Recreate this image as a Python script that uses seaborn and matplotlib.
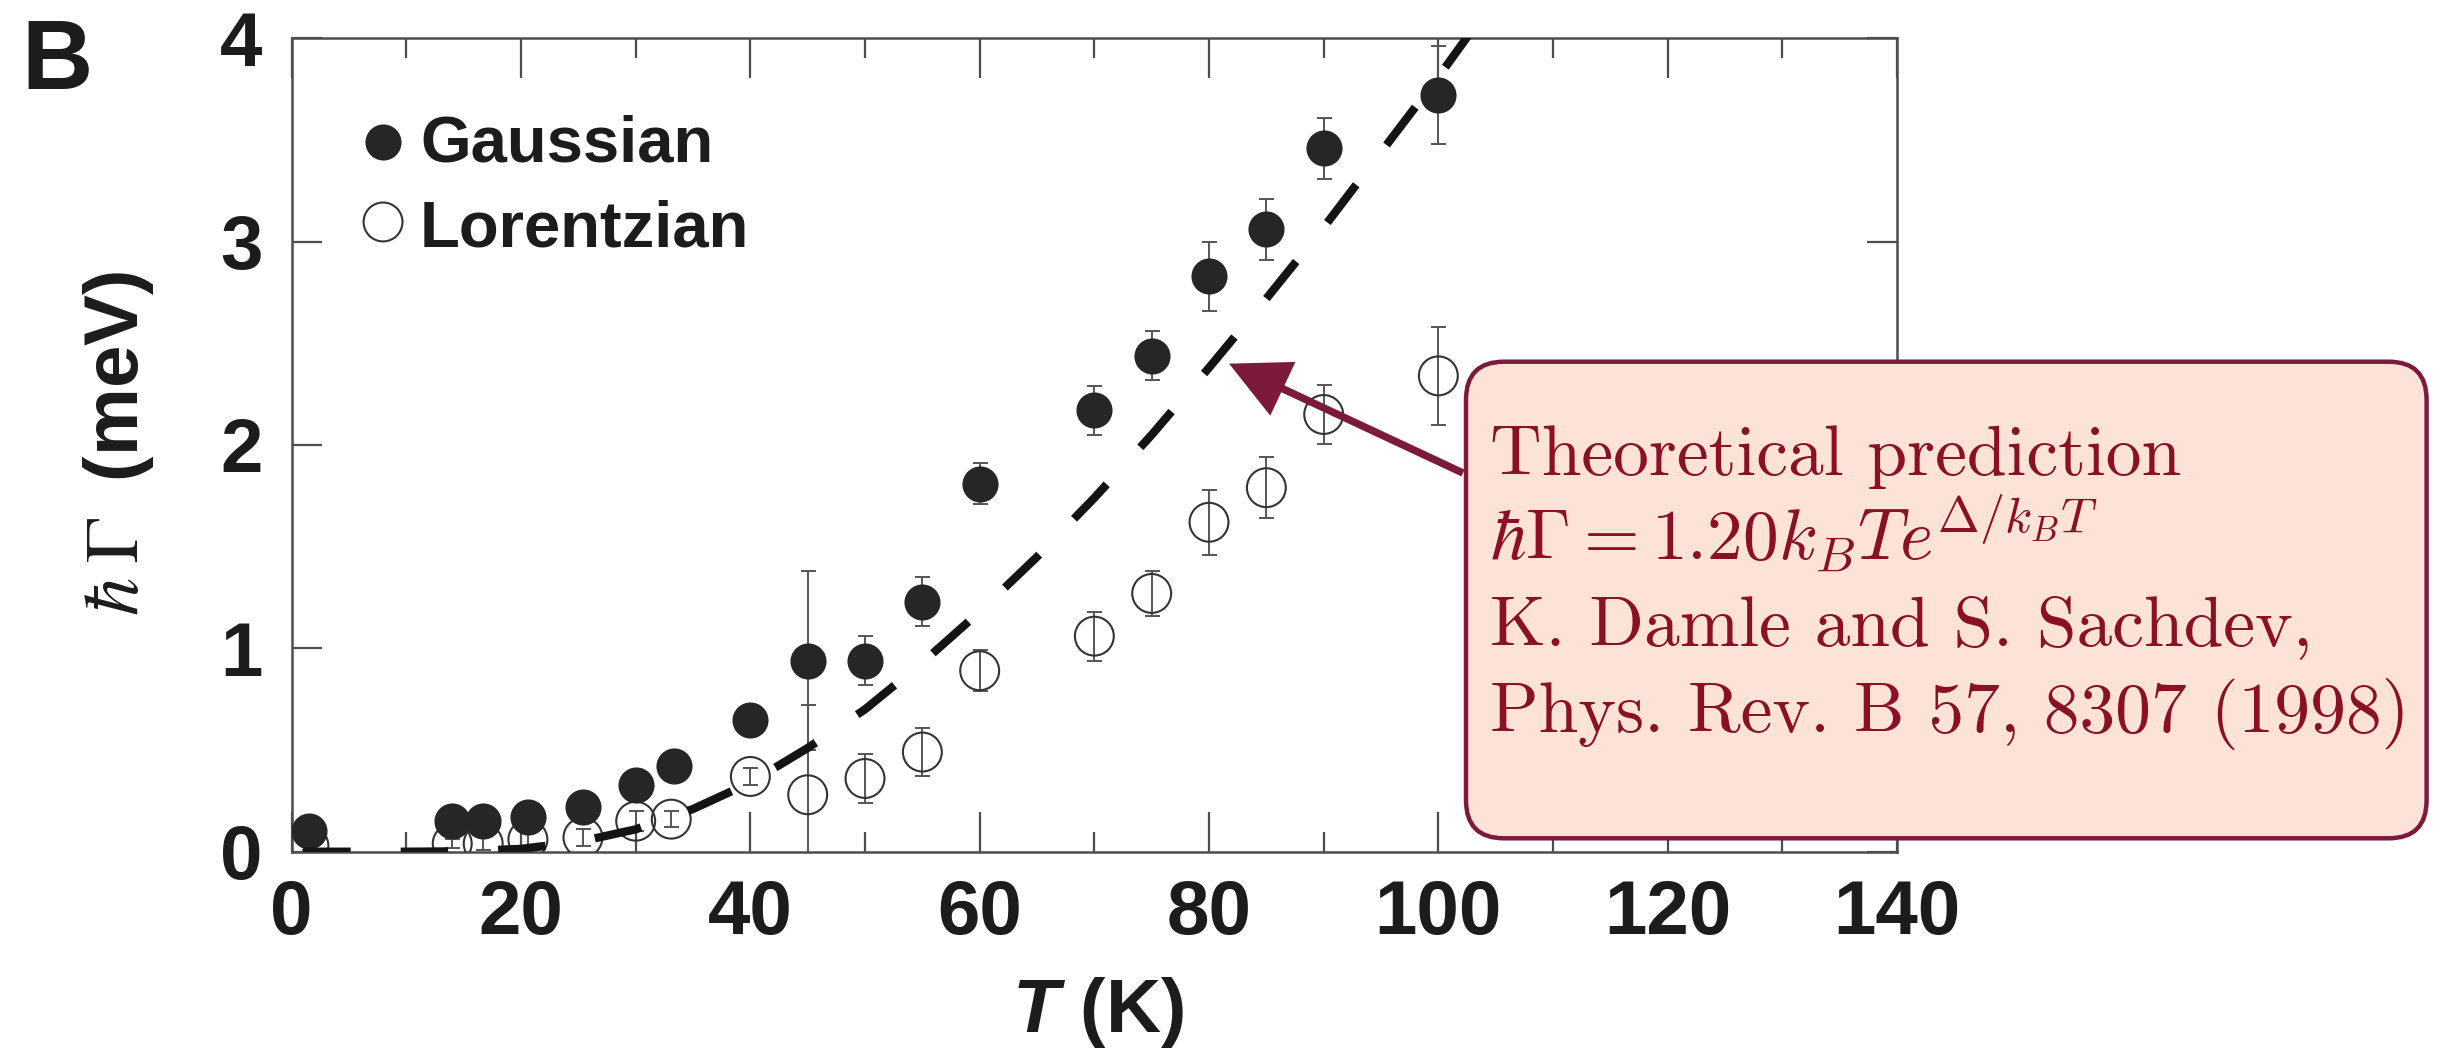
import matplotlib
matplotlib.use("Agg")
import matplotlib.pyplot as plt
import seaborn as sns
import pandas as pd
from matplotlib.patches import FancyBboxPatch
from matplotlib.transforms import IdentityTransform
from matplotlib.ticker import MultipleLocator

# Damping rate from Gaussian line-shape fits (filled symbols)
t_gauss = [1.5, 14.0, 16.7, 20.6, 25.4, 30.0, 33.3, 40.0, 45.0, 50.0, 55.0, 60.0,
           70.0, 75.0, 80.0, 85.0, 90.0, 100.0]
gamma_gauss = [0.10, 0.15, 0.15, 0.17, 0.22, 0.33, 0.42, 0.65, 0.94, 0.94, 1.23, 1.81,
               2.17, 2.44, 2.83, 3.06, 3.46, 3.72]
err_gauss = [0.03, 0.03, 0.03, 0.03, 0.03, 0.04, 0.04, 0.05, 0.44, 0.12, 0.12, 0.10,
             0.12, 0.12, 0.17, 0.15, 0.15, 0.24]

# Damping rate from Lorentzian line-shape fits (open symbols)
t_lor = [1.5, 14.0, 16.7, 20.6, 25.4, 30.0, 33.1, 40.0, 45.0, 50.0, 55.0, 60.0,
         70.0, 75.0, 80.0, 85.0, 90.0, 100.0]
gamma_lor = [0.03, 0.04, 0.04, 0.06, 0.07, 0.15, 0.16, 0.37, 0.28, 0.36, 0.49, 0.89,
             1.06, 1.27, 1.62, 1.79, 2.15, 2.34]
err_lor = [0.02, 0.02, 0.03, 0.03, 0.04, 0.05, 0.04, 0.04, 0.44, 0.12, 0.12, 0.10,
           0.12, 0.11, 0.16, 0.15, 0.145, 0.24]

# Theoretical prediction (dashed curve)
t_theory = [1, 5, 10, 15, 20, 25, 30, 35, 40, 45, 50, 55, 60, 65, 70, 75, 80, 85,
            90, 95, 100, 105]
gamma_theory = [0.0, 0.0, 0.0, 0.002, 0.014, 0.048, 0.11, 0.21, 0.34, 0.51, 0.70, 0.93,
                1.18, 1.45, 1.74, 2.05, 2.38, 2.72, 3.07, 3.44, 3.81, 4.20]

x_ticks = [0, 20, 40, 60, 80, 100, 120, 140]
y_ticks = [0, 1, 2, 3, 4]

sns.set_theme(style="ticks")
plt.rcParams["font.family"] = ["Liberation Sans", "DejaVu Sans"]
plt.rcParams["font.weight"] = "normal"
plt.rcParams["mathtext.fontset"] = "custom"
plt.rcParams["mathtext.it"] = "Liberation Sans:italic:bold"
plt.rcParams["mathtext.rm"] = "Liberation Sans:bold"

W, H, DPI = 2442, 1048, 100
fig = plt.figure(figsize=(W / DPI, H / DPI), dpi=DPI, facecolor="white")

ax_l, ax_r, ax_t, ax_b = 291.7, 1897.0, 38.3, 851.7
ax = fig.add_axes([ax_l / W, 1 - ax_b / H, (ax_r - ax_l) / W, (ax_b - ax_t) / H])
ax.set_facecolor("white")

df_g = pd.DataFrame({"T": t_gauss, "gamma": gamma_gauss, "err": err_gauss})
df_l = pd.DataFrame({"T": t_lor, "gamma": gamma_lor, "err": err_lor})
df_t = pd.DataFrame({"T": t_theory, "gamma": gamma_theory})

bar_kw = dict(fmt="none", ecolor="#555555", elinewidth=1.4, capsize=5.4, capthick=1.4)

# Lorentzian: open circles, error bars visible through them
ax.errorbar(df_l["T"], df_l["gamma"], yerr=df_l["err"], zorder=2, **bar_kw)
sns.scatterplot(data=df_l, x="T", y="gamma", ax=ax, s=784, marker="o",
                facecolor="none", edgecolor="#333333", linewidth=1.5, zorder=3)
ax.collections[-1].set_facecolor("none")

# Gaussian: filled circles
ax.errorbar(df_g["T"], df_g["gamma"], yerr=df_g["err"], zorder=4, **bar_kw)
sns.scatterplot(data=df_g, x="T", y="gamma", ax=ax, s=600, marker="o",
                color="#262626", edgecolor="#262626", linewidth=1.5, zorder=5)

# Theory curve
sns.lineplot(data=df_t, x="T", y="gamma", ax=ax, color="#141414", linewidth=6.0,
             linestyle=(0, (5.7, 6.0)), estimator=None, sort=False, zorder=7)

ax.set_xlim(0, 140)
ax.set_ylim(0, 4)
ax.set_xticks(x_ticks)
ax.set_yticks(y_ticks)
ax.xaxis.set_minor_locator(MultipleLocator(10))
ax.set_xticklabels([str(v) for v in x_ticks], fontweight="bold")
ax.set_yticklabels([str(v) for v in y_ticks], fontweight="bold")

spine_c = "#4d4d4d"
for sp in ax.spines.values():
    sp.set_visible(True)
    sp.set_color(spine_c)
    sp.set_linewidth(1.8)

ax.tick_params(axis="both", which="both", direction="in", top=True, right=True,
               color=spine_c, width=1.6, labelsize=55, labelcolor="#1c1c1c")
ax.tick_params(axis="x", which="major", length=28.8, pad=20)
ax.tick_params(axis="x", which="minor", length=14.4)
ax.tick_params(axis="y", which="major", length=21.6, pad=21)

# Axis labels
ax.set_xlabel(r"$T$ (K)", fontsize=55, fontweight="bold", color="#1c1c1c",
              math_fontfamily="custom")
ax.xaxis.label.set_va("baseline")
ax.xaxis.set_label_coords(0.5025, (ax_b - 1032.3) / (ax_b - ax_t))

ax.set_ylabel(r"$\hbar\;\Gamma\;$ (meV)", fontsize=55, fontweight="bold",
              color="#1c1c1c", math_fontfamily="stix")
ax.yaxis.label.set_va("baseline")
ax.yaxis.set_label_coords((138.3 - ax_l) / (ax_r - ax_l), 0.502)

# Legend drawn by hand
ax.scatter([0.0569], [0.8725], s=600, c="#262626", edgecolors="#262626", linewidths=1.5,
           transform=ax.transAxes, clip_on=False, zorder=8)
ax.scatter([0.0569], [0.7742], s=784, facecolors="none", edgecolors="#333333",
           linewidths=1.5, transform=ax.transAxes, clip_on=False, zorder=8)
ax.text(0.080, 0.848, "Gaussian", transform=ax.transAxes, fontsize=47,
        fontweight="bold", color="#1c1c1c", va="baseline", ha="left")
ax.text(0.080, 0.7438, "Lorentzian", transform=ax.transAxes, fontsize=47,
        fontweight="bold", color="#1c1c1c", va="baseline", ha="left")

# Panel letter
fig.text(57.5 / W, 1 - 89.3 / H, "B", fontsize=71, fontweight="bold",
         color="#1c1c1c", ha="center", va="baseline")

# Annotation arrow and call-out box
maroon = "#7b1a3b"
ax.annotate("", xy=(81.75, 2.40), xycoords="data",
            xytext=(1463, H - 473), textcoords="figure pixels",
            arrowprops=dict(arrowstyle="-|>,head_length=1.7,head_width=0.85",
                            mutation_scale=20, lw=5.4, color=maroon,
                            shrinkA=0, shrinkB=0, joinstyle="miter",
                            capstyle="butt"),
            zorder=9)

box_x0, box_x1, box_top, box_bot = 1466.0, 2426.6, 361.7, 838.3
box = FancyBboxPatch((box_x0, H - box_bot), box_x1 - box_x0, box_bot - box_top,
                     boxstyle="round,pad=0,rounding_size=38",
                     transform=IdentityTransform(), facecolor="#fde2d8",
                     edgecolor=maroon, linewidth=3.2, zorder=10)
fig.patches.append(box)

txt_c = "#8a1026"
tx = 1490 / W
lines = [
    ("Theoretical prediction", 475.0),
    (r"$\hbar\Gamma = 1.20k_BTe^{\Delta/k_BT}$", 560.0),
    ("K. Damle and S. Sachdev,", 645.0),
    ("Phys. Rev. B 57, 8307 (1998)", 732.0),
]
for s, base in lines:
    fig.text(tx, 1 - base / H, s, fontsize=51.5, family="cmr10", fontweight="normal",
             math_fontfamily="cm", color=txt_c, ha="left", va="baseline", zorder=11)

fig.savefig("out.png", dpi=DPI, facecolor="white")
